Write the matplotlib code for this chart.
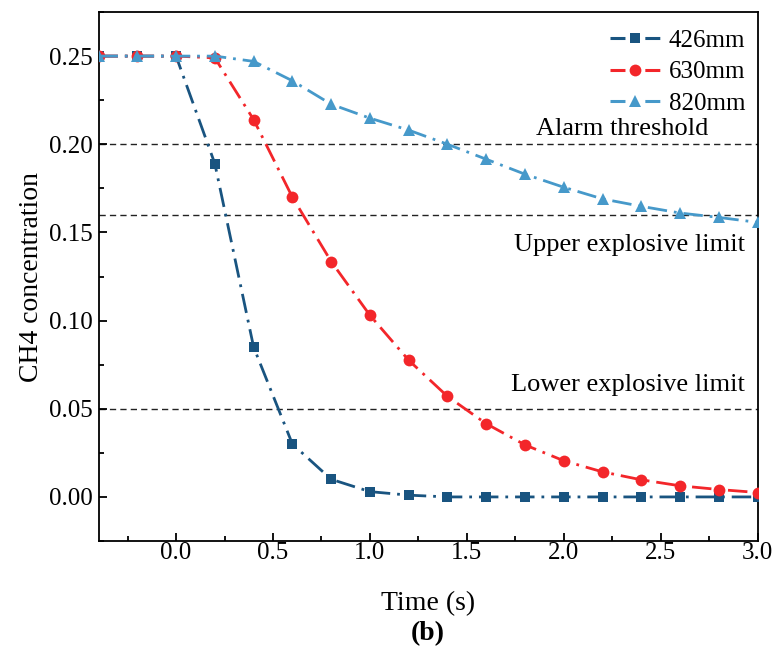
import matplotlib.pyplot as plt
import numpy as np
from matplotlib.lines import Line2D
from matplotlib.ticker import MultipleLocator

# CH4 concentration vs time for three distances
time_s = [-0.4, -0.2, 0.0, 0.2, 0.4, 0.6, 0.8, 1.0, 1.2, 1.4, 1.6, 1.8,
          2.0, 2.2, 2.4, 2.6, 2.8, 3.0]
conc_426 = [0.250, 0.250, 0.250, 0.189, 0.085, 0.030, 0.010, 0.003, 0.001, 0.000,
            0.000, 0.000, 0.000, 0.000, 0.000, 0.000, 0.000, 0.000]
conc_630 = [0.250, 0.250, 0.250, 0.249, 0.214, 0.170, 0.1335, 0.103, 0.0775, 0.057,
            0.0415, 0.0295, 0.0205, 0.0142, 0.0097, 0.0063, 0.0042, 0.0025]
conc_820 = [0.250, 0.250, 0.250, 0.250, 0.247, 0.236, 0.2227, 0.2148, 0.208, 0.200,
            0.1915, 0.183, 0.1756, 0.169, 0.1648, 0.161, 0.1585, 0.1557]
series_names = ['426mm', '630mm', '820mm']

# reference levels
limit_values = [0.20, 0.16, 0.05]
limit_names = ['Alarm threshold', 'Upper explosive limit', 'Lower explosive limit']

plt.rcParams['font.family'] = ['Liberation Serif', 'DejaVu Serif']

colors = ['#195480', '#f3262a', '#4699ca']
markers = ['s', 'o', '^']
msizes = [7.5, 8.5, 9]
dashdot = (0, (7, 2.5, 1, 2.5))

fig = plt.figure(figsize=(7.75, 6.53), dpi=100)
ax = fig.add_axes([0.1271, 0.1715, 0.8506, 0.8101])

for y in limit_values:
    ax.axhline(y, color='#222222', lw=1.0, ls=(0, (4.5, 3)), zorder=1)

ax.text(2.745, 0.2085, limit_names[0], ha='right', va='center', fontsize=19)
ax.text(2.936, 0.1426, limit_names[1], ha='right', va='center', fontsize=19)
ax.text(2.936, 0.0633, limit_names[2], ha='right', va='center', fontsize=19)

handles = []
for data, c, m, ms, name in zip([conc_426, conc_630, conc_820], colors, markers,
                                msizes, series_names):
    ax.plot(time_s, data, color=c, lw=2.0, ls=dashdot, marker=m, ms=ms,
            markeredgewidth=0, zorder=3)
    # legend key: one dash on each side of the marker
    handles.append(Line2D([], [], color=c, lw=2.2, ls=(0, (4.9, 6.5)), marker=m,
                          ms=ms, markeredgewidth=0, label=name))

ax.set_xlim(-0.4, 3.0)
ax.set_ylim(-0.025, 0.275)
ax.xaxis.set_minor_locator(MultipleLocator(0.25))
ax.yaxis.set_minor_locator(MultipleLocator(0.025))
ax.set_xticks(np.arange(0.0, 3.01, 0.5))
ax.set_xticklabels(['%.1f' % v for v in np.arange(0.0, 3.01, 0.5)])
ax.set_yticks(np.arange(0.0, 0.251, 0.05))
ax.set_yticklabels(['%.2f' % v for v in np.arange(0.0, 0.251, 0.05)])
ax.tick_params(which='both', direction='in', top=False, right=False, labelsize=18)
ax.tick_params(which='major', length=6, width=1.3)
ax.tick_params(which='minor', length=3.5, width=1.3)
ax.tick_params(axis='x', which='major', pad=1)
ax.tick_params(axis='y', which='major', pad=4)
for s in ax.spines.values():
    s.set_linewidth(1.3)

ax.set_xlabel('Time (s)', fontsize=20, labelpad=19)
ax.set_ylabel('CH4 concentration', fontsize=20, labelpad=4)
fig.text(0.5515, 0.030, '(b)', ha='center', va='center', fontsize=20,
         fontweight='bold')

ax.legend(handles=handles, loc='upper right', frameon=False, fontsize=18,
          handlelength=2.0, handletextpad=0.35, labelspacing=0.35,
          borderaxespad=0.2, bbox_to_anchor=(1.004, 0.995))

fig.savefig('out.png', dpi=100)
